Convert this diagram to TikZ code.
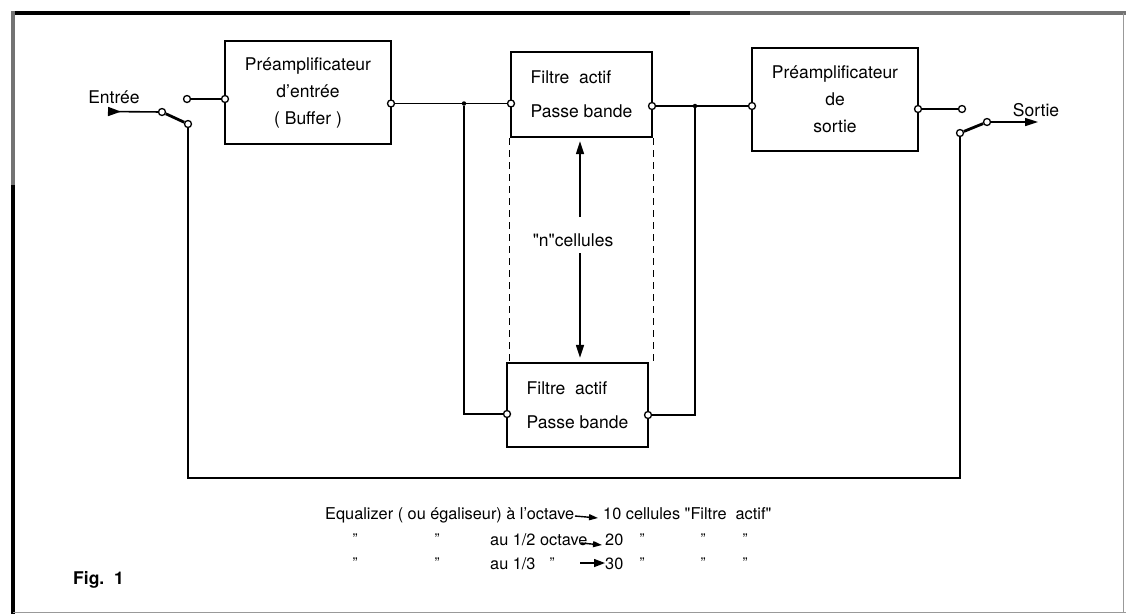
\documentclass[tikz,border=0pt]{standalone}
\usepackage{fontspec}
\setmainfont{TeX Gyre Heros}
\usetikzlibrary{arrows.meta,calc}
\begin{document}
\begin{tikzpicture}[x=1pt,y=-1pt,
  blk/.style={draw, line width=2.4pt, inner sep=0pt, font=\fontsize{17.5}{27}\selectfont},
  term/.style={circle, draw, line width=1.3pt, fill=white, inner sep=0pt, minimum size=7pt},
  jdot/.style={circle, fill=black, inner sep=0pt, minimum size=4.5pt},
  wire/.style={line width=1.6pt},
  blade/.style={line width=2.8pt},
  lbl/.style={font=\fontsize{17.5}{21}\selectfont, inner sep=0pt},
  leg/.style={font=\fontsize{16.3}{20}\selectfont, inner sep=0pt, anchor=base west},
  ditto/.style={font=\fontsize{15}{15}\selectfont, inner sep=0pt},
  tip/.style={-{Triangle[length=13pt,width=8pt]}},
  smalltip/.style={-{Triangle[length=9pt,width=6pt]}}
]
\useasboundingbox (0,0) rectangle (1126,614);
% frame
\draw[line width=4pt] (12,13) -- (690,13);
\draw[line width=4pt, black!55] (690,13) -- (1126,13);
\draw[line width=4pt, black!55] (13,11) -- (13,185);
\draw[line width=4pt] (13,185) -- (13,614);
\draw[line width=1pt, black!40] (13,612.5) -- (1126,612.5);
\draw[line width=1pt, black!40] (1123,13) -- (1123,612);

% blocks
\node[blk, minimum width=166pt, minimum height=103pt, align=center] (b1) at (308,92.5)
  {Préamplificateur\\d’entrée\\( Buffer )};
\node[blk, minimum width=141pt, minimum height=85pt, align=left] (b2) at (581.5,94.5)
  {Filtre\ \ actif\\[7pt]Passe bande};
\node[blk, minimum width=141pt, minimum height=84pt, align=left] (b4) at (577.5,405)
  {Filtre\ \ actif\\[7pt]Passe bande};
\node[blk, minimum width=166pt, minimum height=103pt, align=center] (b3) at (835,99.5)
  {Préamplificateur\\de\\sortie};

% junctions and corners
\node[jdot] (j1) at (464,103.5) {};
\node[jdot] (j2) at (695,106) {};
\coordinate (c1) at (464,414);
\coordinate (c2) at (695,415);
\coordinate (f1) at (188,478);
\coordinate (f2) at (960,478);
\coordinate (ein) at (108,111.5);
\coordinate (sout) at (1038,122);

% wires
\draw[wire] (187,99) -- (225,99);
\draw[wire] (391,103.5) -- (j1) -- (511,103.5);
\draw[wire] (j1) -- (c1) -- (507,414);
\draw[wire] (652,106) -- (j2) -- (752,106);
\draw[wire] (648,415) -- (c2) -- (j2);
\draw[wire] (918,109) -- (962,109);
\draw[wire] (188,124) -- (f1) -- (f2) -- (960,133);

% terminals
\node[term] (b1i) at (225,99) {};
\node[term] (b1o) at (391,103.5) {};
\node[term] (b2i) at (511,103.5) {};
\node[term] (b2o) at (652,106) {};
\node[term] (b3i) at (752,106) {};
\node[term] (b3o) at (918,109) {};
\node[term] (b4i) at (507,414) {};
\node[term] (b4o) at (648,415) {};

% input switch
\node[term] (s1u) at (187,99) {};
\node[term] (s1p) at (162,112) {};
\node[term] (s1d) at (188,124) {};
\draw[wire, {Triangle[reversed,length=13pt,width=9pt]}-] (ein) -- (s1p);
\draw[blade] (s1p) -- (s1d);
\node[lbl] (entree) at (114,97) {Entrée};

% output switch
\node[term] (s2u) at (962,109) {};
\node[term] (s2p) at (987,122) {};
\node[term] (s2d) at (960,133) {};
\draw[blade] (s2p) -- (s2d);
\draw[wire, tip] (s2p) -- (sout);
\node[lbl] (sortie) at (1036,110) {Sortie};

% n cellules
\draw[line width=1.2pt, dash pattern=on 7pt off 5pt] (b2.south west) -- (b2.south west |- b4.north);
\draw[line width=1.2pt, dash pattern=on 7pt off 5pt] (b2.south east) -- (b2.south east |- b4.north);
\node[lbl] (ncel) at (573,240) {\textquotedbl n\textquotedbl cellules};
\coordinate (da1) at (580,217);
\coordinate (da2) at (580,253);
\draw[wire, tip, shorten >=3pt] (da1) -- (da1 |- b2.south);
\draw[wire, tip, shorten >=4pt] (da2) -- (da2 |- b4.north);

% legend
\node[leg] (eqa) at (325,519) {Equalizer ( ou égaliseur) à l’octave};
\node[leg] (eqb) at (603,519) {10 cellules \textquotedbl Filtre\ \ actif\textquotedbl};
\coordinate (a1s) at (575,516);
\coordinate (a1e) at (598,518);
\draw[line width=1.4pt, smalltip] (a1s) -- (a1e);

\node[ditto] (d21) at (355,539) {”};
\node[ditto] (d22) at (437,539) {”};
\node[leg] (eqc) at (490,545) {au 1/2 octave};
\node[leg] (eqd) at (605,545) {20};
\node[ditto] (d23) at (642,539) {”};
\node[ditto] (d24) at (703,539) {”};
\node[ditto] (d25) at (745,539) {”};
\coordinate (a2s) at (581,543);
\coordinate (a2e) at (602,545);
\draw[line width=1.4pt, smalltip] (a2s) -- (a2e);

\node[ditto] (d31) at (355,563) {”};
\node[ditto] (d32) at (437,563) {”};
\node[leg] (eqe) at (490,569) {au 1/3};
\node[ditto] (d33) at (552,563) {”};
\node[leg] (eqf) at (605,569) {30};
\node[ditto] (d34) at (642,563) {”};
\node[ditto] (d35) at (703,563) {”};
\node[ditto] (d36) at (745,563) {”};
\coordinate (a3s) at (580,563);
\draw[line width=1.4pt, -{Triangle[length=11pt,width=8pt]}] (a3s) -- (eqf.west |- a3s);

\node[lbl, anchor=west, font=\fontsize{17.5}{21}\selectfont\bfseries] (fig) at (73,580) {Fig.\ \ 1};
\end{tikzpicture}
\end{document}
